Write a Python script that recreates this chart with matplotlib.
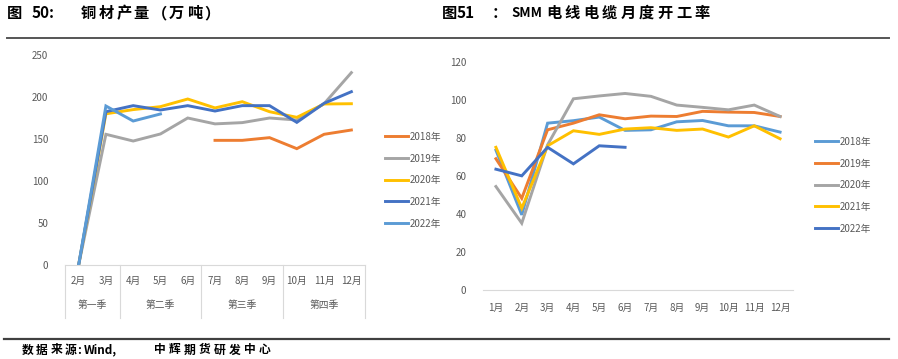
import numpy as np
import matplotlib as mpl
import matplotlib.pyplot as plt
from matplotlib.lines import Line2D

mpl.rcParams["font.family"] = ["Noto Sans CJK SC", "DejaVu Sans"]

W, H = 898, 359

# ---- left chart data: copper product output (10k t) ----
months_l = ["2月", "3月", "4月", "5月", "6月", "7月", "8月", "9月", "10月", "11月", "12月"]
quarters = ["第一季", "第二季", "第三季", "第四季"]
quarter_edges = [-0.5, 1.5, 4.5, 7.5, 10.5]
nan = np.nan
out_2018 = [nan, nan, nan, nan, nan, 148.4, 148.4, 151.6, 138.5, 155.6, 160.7]
out_2019 = [0, 155.6, 147.6, 156, 175, 168, 169.5, 175, 172.6, 192, 229]
out_2020 = [0, 180, 185, 188.5, 197.6, 187, 194.4, 182.5, 175.8, 191.7, 192]
out_2021 = [0, 182.5, 189.7, 184.5, 189.7, 183.3, 189.7, 189.7, 169.8, 192.5, 206.3]
out_2022 = [0, 189.3, 171.4, 179.8, nan, nan, nan, nan, nan, nan, nan]

# ---- right chart data: SMM wire & cable operating rate ----
months_r = ["1月", "2月", "3月", "4月", "5月", "6月", "7月", "8月", "9月", "10月", "11月", "12月"]
rate_2018 = [73.5, 39.5, 87.7, 89, 90.9, 83.9, 84.2, 88.4, 89.1, 86.3, 86.3, 83]
rate_2019 = [69, 48.2, 84.2, 87.7, 92.1, 90, 91.4, 91.2, 93.9, 93.5, 93.3, 91.2]
rate_2020 = [54.4, 35.1, 76.3, 100.5, 102, 103.3, 101.8, 97.2, 96, 94.7, 97.2, 91.2]
rate_2021 = [75, 43, 75.8, 83.7, 81.8, 84.6, 85.3, 83.9, 84.6, 80.4, 86.3, 79.5]
rate_2022 = [63.5, 60, 75, 66.3, 75.8, 75, nan, nan, nan, nan, nan, nan]

ORANGE, GRAY, YELLOW, DBLUE, LBLUE = "#ED7D31", "#A5A5A5", "#FFC000", "#4472C4", "#5B9BD5"
TXT = "#595959"
AXLINE = "#D9D9D9"
LW = 2.1


def box(x0, y0, x1, y1):
    # pixel box (top-left origin) -> figure fraction rect
    return [x0 / W, 1 - y1 / H, (x1 - x0) / W, (y1 - y0) / H]


def spaced(x, y, s, pitch, size):
    # lay out CJK characters one by one with a wide pitch, like the source pdf
    for i, ch in enumerate(s):
        fig.text((x + i * pitch) / W, 1 - y / H, ch, fontsize=size, fontweight="bold",
                 va="center", ha="left", color="black")


def plain(x, y, s, size):
    fig.text(x / W, 1 - y / H, s, fontsize=size, fontweight="bold",
             va="center", ha="left", color="black")


fig = plt.figure(figsize=(W / 100, H / 100), dpi=100)

# header / footer rules and text
fig.add_artist(Line2D([7 / W, 889 / W], [1 - 38 / H] * 2, color="#555555", lw=1.4))
fig.add_artist(Line2D([4 / W, 889 / W], [1 - 339 / H] * 2, color="#404040", lw=1.6))

spaced(7, 13, "图", 18, 11)
plain(32, 13, "50:", 11)
spaced(81, 13, "铜材产量（万吨）", 17.6, 11)

spaced(442, 13, "图", 18, 11)
plain(457, 13, "51", 11)
plain(492, 13, "：", 11)
plain(511, 13, "SMM", 9.5)
spaced(546, 13, "电线电缆月度开工率", 18.6, 11)

spaced(22, 350, "数据来源", 14.2, 8.5)
plain(77, 350, ":", 8.5)
plain(84, 350, "Wind,", 8.5)
spaced(154, 350, "中辉期货研发中心", 15, 8.5)

# ================= left chart =================
ax1 = fig.add_axes(box(65, 55, 365, 265))
x1 = np.arange(len(months_l))
for vals, c, lab in [(out_2018, ORANGE, "2018年"), (out_2019, GRAY, "2019年"),
                     (out_2020, YELLOW, "2020年"), (out_2021, DBLUE, "2021年"),
                     (out_2022, LBLUE, "2022年")]:
    ax1.plot(x1, vals, color=c, lw=LW, label=lab, solid_joinstyle="miter")
ax1.set_xlim(-0.5, len(months_l) - 0.5)
ax1.set_ylim(0, 250)
ax1.set_yticks(np.arange(0, 251, 50))
ax1.tick_params(axis="y", length=0, labelsize=7, labelcolor=TXT, pad=12)
ax1.set_xticks([])
for s in ["top", "right", "left"]:
    ax1.spines[s].set_visible(False)
ax1.spines["bottom"].set_color(AXLINE)
ax1.spines["bottom"].set_linewidth(0.8)

trans = ax1.get_xaxis_transform()
for i, m in enumerate(months_l):
    ax1.text(i, -0.076, m, transform=trans, ha="center", va="center", fontsize=7, color=TXT)
for q, (a, b) in enumerate(zip(quarter_edges[:-1], quarter_edges[1:])):
    ax1.text((a + b) / 2, -0.19, quarters[q], transform=trans, ha="center", va="center",
             fontsize=7, color=TXT)
for e in quarter_edges:
    ax1.plot([e, e], [0, -0.25], transform=trans, color=AXLINE, lw=0.8, clip_on=False)

ax1.legend(loc="upper left", bbox_to_anchor=(380 / W, 1 - 127 / H),
           bbox_transform=fig.transFigure, frameon=False, fontsize=7,
           labelcolor=TXT, handlelength=2.4, handletextpad=0.1, labelspacing=1.2,
           borderpad=0)

# ================= right chart =================
ax2 = fig.add_axes(box(483, 61.7, 793, 290))
x2 = np.arange(len(months_r))
for vals, c, lab in [(rate_2018, LBLUE, "2018年"), (rate_2019, ORANGE, "2019年"),
                     (rate_2020, GRAY, "2020年"), (rate_2021, YELLOW, "2021年"),
                     (rate_2022, DBLUE, "2022年")]:
    ax2.plot(x2, vals, color=c, lw=LW, label=lab, solid_joinstyle="miter")
ax2.set_xlim(-0.5, len(months_r) - 0.5)
ax2.set_ylim(0, 120)
ax2.set_yticks(np.arange(0, 121, 20))
ax2.set_xticks(x2)
ax2.set_xticklabels(months_r)
ax2.tick_params(axis="y", length=0, labelsize=7, labelcolor=TXT, pad=12)
ax2.tick_params(axis="x", length=0, labelsize=7, labelcolor=TXT, pad=9)
for s in ["top", "right", "left"]:
    ax2.spines[s].set_visible(False)
ax2.spines["bottom"].set_color(AXLINE)
ax2.spines["bottom"].set_linewidth(0.8)

ax2.legend(loc="upper left", bbox_to_anchor=(810 / W, 1 - 132 / H),
           bbox_transform=fig.transFigure, frameon=False, fontsize=7,
           labelcolor=TXT, handlelength=2.4, handletextpad=0.1, labelspacing=1.2,
           borderpad=0)

fig.savefig("out.png", dpi=100)
